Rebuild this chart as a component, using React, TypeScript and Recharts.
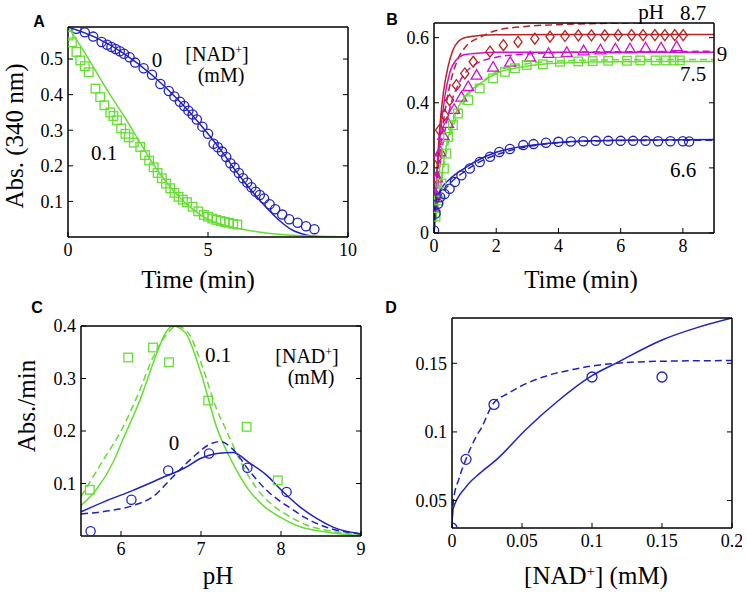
import React from 'react';
import { ComposedChart, Line, Scatter, XAxis, YAxis } from 'recharts';

const SERIF = '"Liberation Serif", "Times New Roman", serif';
const SANS = '"Liberation Sans", Arial, sans-serif';
const BLUE = '#2020c0';
const GREEN = '#66dd33';
const RED = '#b82222';
const MAGENTA = '#d010d0';

type Pt = { x: number; y: number };
const P = (pairs: number[][]): Pt[] => pairs.map(([x, y]) => ({ x, y }));

// ---------- Panel A ----------
const aTimeTicks = [0, 5, 10];
const aAbsTicks = [0.1, 0.2, 0.3, 0.4, 0.5];
const aNad0Points = P([
  [0.3, 0.585], [0.6, 0.575], [0.9, 0.563], [1.2, 0.548], [1.4, 0.54], [1.55, 0.534], [1.7, 0.528],
  [1.85, 0.522], [2.0, 0.515], [2.2, 0.505], [2.4, 0.49], [2.7, 0.474], [3.0, 0.456], [3.3, 0.43],
  [3.6, 0.41], [3.8, 0.395], [4.0, 0.38], [4.15, 0.368], [4.3, 0.355], [4.45, 0.344], [4.6, 0.33],
  [4.8, 0.31], [5.0, 0.29], [5.2, 0.262], [5.35, 0.252], [5.5, 0.24], [5.65, 0.225], [5.8, 0.207],
  [5.95, 0.195], [6.1, 0.18], [6.25, 0.165], [6.4, 0.153], [6.55, 0.14], [6.7, 0.127], [6.85, 0.118],
  [7.0, 0.108], [7.2, 0.092], [7.4, 0.078], [7.65, 0.063], [7.9, 0.05], [8.2, 0.04], [8.5, 0.03], [8.8, 0.022],
]);
const aNad0Fit = P([
  [0, 0.59], [1, 0.56], [2, 0.515], [3, 0.455], [4, 0.38], [5, 0.29], [5.5, 0.24], [6, 0.185],
  [6.5, 0.135], [7, 0.09], [7.5, 0.05], [8, 0.02], [8.5, 0.006], [9, 0.001], [10, 0],
]);
const aNad01Points = P([
  [0.02, 0.566], [0.14, 0.547], [0.3, 0.52], [0.44, 0.496], [0.6, 0.48], [0.74, 0.463], [0.98, 0.417],
  [1.15, 0.393], [1.3, 0.37], [1.51, 0.35], [1.62, 0.34], [1.75, 0.328], [1.9, 0.305], [2.05, 0.29],
  [2.17, 0.28], [2.35, 0.265], [2.58, 0.253], [2.75, 0.23], [2.9, 0.215], [3.06, 0.196], [3.2, 0.18],
  [3.35, 0.165], [3.5, 0.15], [3.65, 0.137], [3.8, 0.124], [3.95, 0.113], [4.1, 0.105], [4.25, 0.098],
  [4.45, 0.085], [4.65, 0.072], [4.85, 0.062], [5.0, 0.057], [5.15, 0.052], [5.3, 0.048], [5.45, 0.045],
  [5.6, 0.042], [5.75, 0.04], [5.9, 0.037], [6.05, 0.035],
]);
const aNad01Fit = P([
  [0, 0.59], [0.5, 0.53], [1, 0.465], [1.5, 0.4], [2, 0.34], [2.5, 0.275], [3, 0.21], [3.5, 0.155],
  [4, 0.11], [4.5, 0.075], [5, 0.05], [5.5, 0.035], [6, 0.025], [7, 0.012], [8, 0.005], [9, 0.002], [10, 0],
]);

// ---------- Panel B ----------
const bTimeTicks = [0, 2, 4, 6, 8];
const bAbsTicks = [0, 0.2, 0.4, 0.6];
const bPh87Points = P([
  [0.03, 0.1], [0.07, 0.17], [0.11, 0.23], [0.18, 0.316], [0.34, 0.362], [0.5, 0.408], [0.72, 0.454],
  [0.99, 0.49], [1.26, 0.526], [1.8, 0.557], [2.23, 0.577], [2.7, 0.587], [3.24, 0.597], [3.73, 0.603],
  [4.21, 0.605], [4.64, 0.607], [5.06, 0.607], [5.49, 0.607], [5.92, 0.608], [6.35, 0.608], [6.72, 0.608],
  [7.1, 0.608], [7.42, 0.608], [7.74, 0.608], [8.01, 0.608],
]);
const bPh87Fit = P([
  [0, 0], [0.1, 0.2], [0.2, 0.34], [0.3, 0.43], [0.45, 0.51], [0.6, 0.56], [0.8, 0.59], [1, 0.6],
  [1.5, 0.607], [2, 0.609], [4, 0.61], [9, 0.61],
]);
const bPh87Alt = P([
  [0, 0], [0.1, 0.15], [0.25, 0.3], [0.5, 0.45], [0.75, 0.53], [1, 0.57], [1.5, 0.602], [2, 0.622],
  [3, 0.635], [4, 0.64], [5, 0.643], [6, 0.645], [7, 0.646], [9, 0.648],
]);
const bPh9Points = P([
  [0.02, 0.08], [0.05, 0.12], [0.1, 0.17], [0.2, 0.25], [0.3, 0.3], [0.45, 0.337], [0.65, 0.38],
  [0.88, 0.418], [1.1, 0.45], [1.37, 0.485], [1.9, 0.51], [2.45, 0.525], [3.09, 0.541], [3.68, 0.552],
  [4.27, 0.555], [4.81, 0.56], [5.35, 0.563], [5.83, 0.566], [6.3, 0.566], [6.8, 0.569], [7.3, 0.569], [7.8, 0.573],
]);
const bPh9Fit = P([
  [0, 0], [0.1, 0.18], [0.2, 0.3], [0.35, 0.42], [0.5, 0.49], [0.7, 0.53], [1, 0.548], [1.5, 0.553],
  [2, 0.555], [9, 0.555],
]);
const bPh9Alt = P([
  [0, 0], [0.1, 0.12], [0.25, 0.25], [0.5, 0.38], [0.8, 0.46], [1.2, 0.51], [2, 0.54], [3, 0.55],
  [4, 0.554], [5, 0.556], [9, 0.558],
]);
const bPh75Points = P([
  [0.05, 0.05], [0.15, 0.1], [0.24, 0.152], [0.32, 0.198], [0.4, 0.244], [0.45, 0.295], [0.61, 0.331],
  [0.77, 0.367], [1.1, 0.408], [1.47, 0.444], [1.9, 0.475], [2.28, 0.495], [2.6, 0.506], [2.98, 0.516],
  [3.5, 0.518], [4.05, 0.526], [4.64, 0.527], [5.1, 0.528], [5.6, 0.529], [6.2, 0.529], [6.63, 0.53],
  [7.12, 0.53], [7.45, 0.53], [7.7, 0.53], [7.9, 0.53],
]);
const bPh75Fit = P([
  [0, 0], [0.2, 0.15], [0.4, 0.27], [0.6, 0.34], [0.8, 0.39], [1, 0.42], [1.5, 0.46], [2, 0.49],
  [3, 0.513], [4, 0.522], [5, 0.525], [7, 0.527], [9, 0.527],
]);
const bPh75Alt = P([
  [0, 0], [0.2, 0.13], [0.4, 0.25], [0.7, 0.35], [1, 0.41], [1.5, 0.46], [2, 0.495], [3, 0.52],
  [4, 0.528], [5, 0.531], [6, 0.532], [9, 0.533],
]);
const bPh66Points = P([
  [0, 0.008], [0.05, 0.06], [0.13, 0.09], [0.2, 0.11], [0.34, 0.12], [0.5, 0.136], [0.67, 0.157],
  [0.88, 0.177], [1.15, 0.198], [1.47, 0.218], [1.8, 0.234], [2.1, 0.249], [2.44, 0.258], [2.87, 0.27],
  [3.2, 0.273], [3.6, 0.277], [4.0, 0.28], [4.4, 0.281], [4.8, 0.282], [5.2, 0.283], [5.6, 0.283],
  [6.0, 0.283], [6.4, 0.283], [6.8, 0.283], [7.2, 0.282], [7.6, 0.282], [8.0, 0.282], [8.2, 0.281],
]);
const bPh66Fit = P([
  [0, 0], [0.05, 0.09], [0.2, 0.13], [0.5, 0.165], [1, 0.2], [1.5, 0.228], [2, 0.248], [3, 0.268],
  [4, 0.278], [5, 0.283], [6, 0.285], [7, 0.286], [9, 0.287],
]);
const bPh66Alt = P([
  [0, 0], [0.05, 0.07], [0.2, 0.11], [0.5, 0.15], [1, 0.19], [1.5, 0.22], [2, 0.24], [3, 0.265],
  [4, 0.277], [5, 0.282], [6, 0.284], [9, 0.285],
]);

// ---------- Panel C ----------
const cPhTicks = [6, 7, 8, 9];
const cRateTicks = [0.1, 0.2, 0.3, 0.4];
const cNad01Points = P([[5.61, 0.088], [6.09, 0.34], [6.4, 0.359], [6.6, 0.331], [7.09, 0.258], [7.57, 0.208], [7.96, 0.106]]);
const cNad0Points = P([[5.62, 0.009], [6.13, 0.069], [6.59, 0.125], [7.1, 0.157], [7.58, 0.13], [8.07, 0.084]]);
const cNad01Fit = P([
  [5.5, 0.058], [5.7, 0.09], [5.9, 0.14], [6.03, 0.186], [6.24, 0.26], [6.45, 0.349], [6.55, 0.385],
  [6.65, 0.4], [6.8, 0.388], [7.0, 0.31], [7.2, 0.205], [7.4, 0.138], [7.6, 0.087], [7.8, 0.055],
  [8.0, 0.035], [8.25, 0.017], [8.5, 0.009], [8.8, 0.003], [9, 0.001],
]);
const cNad01Alt = P([
  [5.5, 0.075], [5.6, 0.1], [5.8, 0.15], [6.0, 0.2], [6.2, 0.265], [6.4, 0.34], [6.55, 0.38],
  [6.7, 0.4], [6.85, 0.385], [7.0, 0.33], [7.2, 0.24], [7.32, 0.2], [7.5, 0.14], [7.7, 0.09],
  [7.9, 0.058], [8.1, 0.038], [8.3, 0.022], [8.6, 0.01], [9, 0.002],
]);
const cNad0Fit = P([
  [5.5, 0.046], [5.8, 0.066], [6.15, 0.087], [6.5, 0.11], [6.8, 0.13], [7.0, 0.148], [7.2, 0.157],
  [7.4, 0.159], [7.6, 0.14], [7.82, 0.116], [8.0, 0.088], [8.24, 0.055], [8.45, 0.033], [8.65, 0.017], [9, 0.004],
]);
const cNad0Alt = P([
  [5.5, 0.042], [5.8, 0.047], [6.15, 0.058], [6.4, 0.075], [6.65, 0.113], [6.9, 0.15], [7.1, 0.174],
  [7.24, 0.18], [7.4, 0.165], [7.6, 0.125], [7.8, 0.09], [8.0, 0.065], [8.1, 0.055], [8.3, 0.035],
  [8.6, 0.015], [9, 0.004],
]);

// ---------- Panel D ----------
const dNadTicks = [0, 0.05, 0.1, 0.15, 0.2];
const dRateTicks = [0.05, 0.1, 0.15];
const dPoints = P([[0, 0.03], [0.01, 0.08], [0.03, 0.12], [0.1, 0.14], [0.15, 0.14]]);
const dFit = P([
  [0, 0.03], [0.0005, 0.043], [0.01, 0.06], [0.02, 0.07], [0.032, 0.08], [0.053, 0.102], [0.075, 0.122],
  [0.1, 0.141], [0.117, 0.15], [0.15, 0.167], [0.175, 0.176], [0.2, 0.183],
]);
const dAlt = P([
  [0, 0.03], [0.001, 0.05], [0.005, 0.066], [0.0103, 0.081], [0.0175, 0.097], [0.021, 0.103],
  [0.029, 0.12], [0.04, 0.128], [0.0485, 0.133], [0.065, 0.14], [0.084, 0.145], [0.1, 0.148],
  [0.117, 0.15], [0.15, 0.1515], [0.2, 0.152],
]);

// ---------- rendering helpers ----------
const TL = 5;
const BottomTick = (p: any) => (
  <g>
    <line x1={p.x} x2={p.x} y1={p.y} y2={p.y - TL} stroke="#000" strokeWidth={1} />
    <text x={p.x} y={p.y + 19} textAnchor="middle" fontSize={18} fontFamily={SERIF} fill="#000">{String(p.payload.value)}</text>
  </g>
);
const TopTick = (p: any) => (
  <line x1={p.x} x2={p.x} y1={p.y} y2={p.y + TL} stroke="#000" strokeWidth={1} />
);
const LeftTick = (p: any) => (
  <g>
    <line x1={p.x} x2={p.x + TL} y1={p.y} y2={p.y} stroke="#000" strokeWidth={1} />
    <text x={p.x - 5} y={p.y} dy="0.35em" textAnchor="end" fontSize={18} fontFamily={SERIF} fill="#000">{String(p.payload.value)}</text>
  </g>
);
const RightTick = (p: any) => (
  <line x1={p.x} x2={p.x - TL} y1={p.y} y2={p.y} stroke="#000" strokeWidth={1} />
);

const circle = (c: string, r = 4.6) => (p: any) => <circle cx={p.cx} cy={p.cy} r={r} fill="none" stroke={c} strokeWidth={1.3} />;
const square = (c: string, s = 4.3) => (p: any) => <rect x={p.cx - s} y={p.cy - s} width={2 * s} height={2 * s} fill="none" stroke={c} strokeWidth={1.3} />;
const diamond = (c: string, s = 5.5) => (p: any) => (
  <polygon points={`${p.cx},${p.cy - s} ${p.cx + s * 0.75},${p.cy} ${p.cx},${p.cy + s} ${p.cx - s * 0.75},${p.cy}`} fill="none" stroke={c} strokeWidth={1.3} />
);
const triangle = (c: string, s = 5.5) => (p: any) => (
  <polygon points={`${p.cx},${p.cy - s} ${p.cx + s},${p.cy + s * 0.75} ${p.cx - s},${p.cy + s * 0.75}`} fill="none" stroke={c} strokeWidth={1.3} />
);

// plot area size and the space around it; each axis takes 1px so that it is rendered
const PW = 280, PH = 210, ML = 60, MT = 10, MR = 10, MB = 40;
const AX = { stroke: '#000', strokeWidth: 1.5 };

type PanelProps = {
  left: number; top: number;
  xDomain: [number, number]; yDomain: [number, number];
  xTicks: number[]; yTicks: number[];
  children: React.ReactNode;
};

function Panel({ left, top, xDomain, yDomain, xTicks, yTicks, children }: PanelProps) {
  return (
    <div style={{ position: 'absolute', left: left - ML, top: top - MT }}>
      <ComposedChart width={PW + ML + MR} height={PH + MT + MB}
        margin={{ top: MT - 1, right: MR - 1, bottom: MB - 1, left: ML - 1 }}>
        <XAxis xAxisId={0} type="number" dataKey="x" domain={xDomain} ticks={xTicks} allowDataOverflow interval={0}
          height={1} tickSize={0} tickMargin={0} tickLine={false} axisLine={AX} tick={(p: any) => <BottomTick {...p} />} />
        <XAxis xAxisId="top" orientation="top" type="number" domain={xDomain} ticks={xTicks} allowDataOverflow interval={0}
          height={1} tickSize={0} tickMargin={0} tickLine={false} axisLine={AX} tick={(p: any) => <TopTick {...p} />} />
        <YAxis yAxisId={0} type="number" dataKey="y" domain={yDomain} ticks={yTicks} allowDataOverflow interval={0}
          width={1} tickSize={0} tickMargin={0} tickLine={false} axisLine={AX} tick={(p: any) => <LeftTick {...p} />} />
        <YAxis yAxisId="right" orientation="right" type="number" domain={yDomain} ticks={yTicks} allowDataOverflow interval={0}
          width={1} tickSize={0} tickMargin={0} tickLine={false} axisLine={AX} tick={(p: any) => <RightTick {...p} />} />
        {children}
      </ComposedChart>
    </div>
  );
}

const fitLine = (key: string, data: Pt[], color: string, dashed = false) => (
  <Line key={key} data={data} dataKey="y" type="monotone" stroke={color} strokeWidth={1.5}
    strokeDasharray={dashed ? '7 4' : undefined} dot={false} activeDot={false} isAnimationActive={false} legendType="none" />
);
const points = (key: string, data: Pt[], shape: any) => (
  <Scatter key={key} data={data} dataKey="y" shape={shape} isAnimationActive={false} legendType="none" />
);

const Txt = ({ x, y, size = 22, rotate = false, bold = false, sans = false, children }: any) => (
  <div style={{
    position: 'absolute', left: x, top: y, transform: `translate(-50%, -50%)${rotate ? ' rotate(-90deg)' : ''}`,
    fontSize: size, fontFamily: sans ? SANS : SERIF, fontWeight: bold ? 'bold' : 'normal',
    whiteSpace: 'nowrap', lineHeight: 1, color: '#000', textAlign: 'center',
  }}>{children}</div>
);
const NAD = () => (
  <span>[NAD<span style={{ fontSize: '0.6em', position: 'relative', top: '-0.55em' }}>+</span>]</span>
);

export default function App() {
  return (
    <div style={{ position: 'absolute', left: 0, top: 0, width: 747, height: 592, background: '#fff', overflow: 'hidden' }}>
      <Panel left={68} top={27} xDomain={[0, 10]} yDomain={[0, 0.59]} xTicks={aTimeTicks} yTicks={aAbsTicks}>
        {[
          points('a0p', aNad0Points, circle(BLUE)),
          points('a1p', aNad01Points, square(GREEN)),
          fitLine('a0f', aNad0Fit, BLUE),
          fitLine('a1f', aNad01Fit, GREEN),
        ]}
      </Panel>
      <Panel left={434} top={23} xDomain={[0, 9]} yDomain={[0, 0.645]} xTicks={bTimeTicks} yTicks={bAbsTicks}>
        {[
          points('b87p', bPh87Points, diamond(RED)),
          points('b9p', bPh9Points, triangle(MAGENTA)),
          points('b75p', bPh75Points, square(GREEN)),
          points('b66p', bPh66Points, circle(BLUE)),
          fitLine('b87f', bPh87Fit, RED),
          fitLine('b87a', bPh87Alt, RED, true),
          fitLine('b9f', bPh9Fit, MAGENTA),
          fitLine('b9a', bPh9Alt, MAGENTA, true),
          fitLine('b75f', bPh75Fit, GREEN),
          fitLine('b75a', bPh75Alt, GREEN, true),
          fitLine('b66f', bPh66Fit, BLUE),
          fitLine('b66a', bPh66Alt, BLUE, true),
        ]}
      </Panel>
      <Panel left={81} top={326} xDomain={[5.5, 9]} yDomain={[0, 0.4]} xTicks={cPhTicks} yTicks={cRateTicks}>
        {[
          points('c1p', cNad01Points, square(GREEN)),
          points('c0p', cNad0Points, circle(BLUE)),
          fitLine('c1f', cNad01Fit, GREEN),
          fitLine('c1a', cNad01Alt, GREEN, true),
          fitLine('c0f', cNad0Fit, BLUE),
          fitLine('c0a', cNad0Alt, BLUE, true),
        ]}
      </Panel>
      <Panel left={452} top={318} xDomain={[0, 0.2]} yDomain={[0.03, 0.183]} xTicks={dNadTicks} yTicks={dRateTicks}>
        {[
          points('dp', dPoints, circle(BLUE, 5)),
          fitLine('df', dFit, BLUE),
          fitLine('da', dAlt, BLUE, true),
        ]}
      </Panel>

      {/* panel letters */}
      <Txt x={39} y={22} size={16} bold sans>A</Txt>
      <Txt x={392} y={20} size={16} bold sans>B</Txt>
      <Txt x={37} y={308} size={16} bold sans>C</Txt>
      <Txt x={391} y={308} size={16} bold sans>D</Txt>

      {/* axis titles */}
      <Txt x={14} y={136} size={25} rotate>Abs. (340 nm)</Txt>
      <Txt x={198} y={279} size={25}>Time (min)</Txt>
      <Txt x={581} y={279} size={25}>Time (min)</Txt>
      <Txt x={26} y={406} size={25} rotate>Abs./min</Txt>
      <Txt x={218} y={575} size={25}>pH</Txt>
      <Txt x={596} y={575} size={25}><NAD /> (mM)</Txt>

      {/* annotations A */}
      <Txt x={157} y={60} size={21}>0</Txt>
      <Txt x={104} y={153} size={21}>0.1</Txt>
      <Txt x={217} y={54} size={20}><NAD /></Txt>
      <Txt x={221} y={75} size={20}>(mM)</Txt>

      {/* annotations B */}
      <Txt x={651} y={12} size={21}>pH</Txt>
      <Txt x={693} y={13} size={21}>8.7</Txt>
      <Txt x={722} y={54} size={21}>9</Txt>
      <Txt x={693} y={74} size={21}>7.5</Txt>
      <Txt x={683} y={170} size={21}>6.6</Txt>

      {/* annotations C */}
      <Txt x={218} y={355} size={21}>0.1</Txt>
      <Txt x={307} y={356} size={20}><NAD /></Txt>
      <Txt x={311} y={377} size={20}>(mM)</Txt>
      <Txt x={174} y={443} size={21}>0</Txt>
    </div>
  );
}
